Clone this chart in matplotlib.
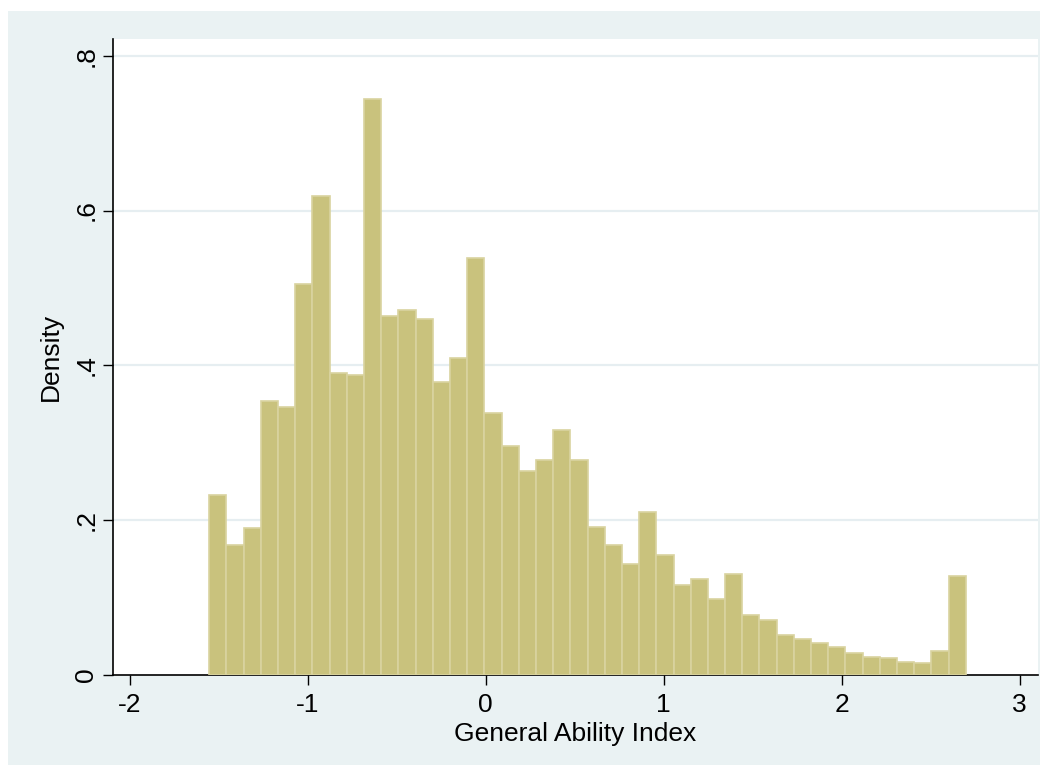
import numpy as np
import matplotlib
matplotlib.use("Agg")
import matplotlib.pyplot as plt
from matplotlib.patches import Rectangle

# ---- data ----
bin_start = -1.553
bin_width = 0.0966
density = [0.233, 0.168, 0.190, 0.354, 0.346, 0.505, 0.619, 0.390, 0.387, 0.744,
           0.464, 0.472, 0.460, 0.379, 0.410, 0.539, 0.338, 0.296, 0.264, 0.278,
           0.317, 0.278, 0.191, 0.168, 0.144, 0.211, 0.155, 0.116, 0.124, 0.098,
           0.131, 0.078, 0.071, 0.052, 0.047, 0.041, 0.036, 0.028, 0.023, 0.022,
           0.017, 0.016, 0.031, 0.128]
x_ticks = [-2, -1, 0, 1, 2, 3]
x_ticklabels = ["-2", "-1", "0", "1", "2", "3"]
y_ticks = [0, 0.2, 0.4, 0.6, 0.8]
y_ticklabels = ["0", ".2", ".4", ".6", ".8"]
x_label = "General Ability Index"
y_label = "Density"

plt.rcParams['font.family'] = ['Liberation Sans', 'DejaVu Sans']

W, H = 1048, 773
fig = plt.figure(figsize=(W / 100, H / 100), dpi=100, facecolor='white')
bg = Rectangle((8 / W, 1 - 765 / H), (1040 - 8) / W, (765 - 11) / H,
               transform=fig.transFigure, facecolor='#EAF2F3', edgecolor='none', zorder=-10)
fig.patches.append(bg)

ax = fig.add_axes([113 / W, 1 - 675 / H, (1038 - 113) / W, (675 - 39) / H])
ax.set_zorder(1)
ax.set_facecolor('white')

edges = bin_start + bin_width * np.arange(len(density))
ax.bar(edges, density, width=bin_width, align='edge', color='#C9C27D',
       edgecolor='#D9D3A0', linewidth=1.2, zorder=3)

ax.set_xlim(-2.094, 3.103)
ax.set_ylim(0, 0.8216)

for yv in y_ticks[1:]:
    ax.axhline(yv, color='#E6EEF1', linewidth=1.6, zorder=1)

ax.set_xticks(x_ticks)
ax.set_xticklabels(x_ticklabels)
ax.set_yticks(y_ticks)
ax.set_yticklabels(y_ticklabels, rotation=90, va='center')

ax.tick_params(axis='both', length=7.5, width=1.0, color='black', labelsize=19)
ax.tick_params(axis='x', pad=5.5)
ax.tick_params(axis='y', pad=3)

for s in ['top', 'right']:
    ax.spines[s].set_visible(False)
for s in ['left', 'bottom']:
    ax.spines[s].set_linewidth(1.2)
    ax.spines[s].set_color('black')

ax.set_xlabel(x_label, fontsize=19, labelpad=3.5)
ax.set_ylabel(y_label, fontsize=19, labelpad=8)

fig.savefig("out.png", dpi=100, facecolor='white')
